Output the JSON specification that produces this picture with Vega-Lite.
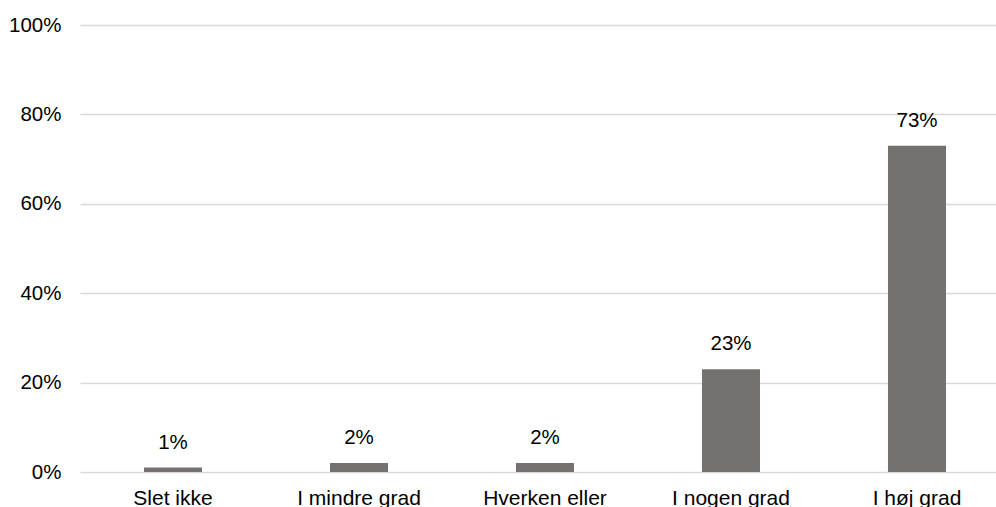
{
  "$schema": "https://vega.github.io/schema/vega-lite/v6.json",
  "autosize": {"type": "none"},
  "width": 916,
  "height": 447,
  "padding": {"left": 80, "top": 25, "right": 0, "bottom": 35},
  "config": {
    "view": {"stroke": null},
    "font": "Liberation Sans"
  },
  "data": {
    "values": [
      {"kategori": "Slet ikke", "andel": 0.01},
      {"kategori": "I mindre grad", "andel": 0.02},
      {"kategori": "Hverken eller", "andel": 0.02},
      {"kategori": "I nogen grad", "andel": 0.23},
      {"kategori": "I høj grad", "andel": 0.73}
    ]
  },
  "encoding": {
    "x": {
      "field": "kategori",
      "type": "nominal",
      "sort": null,
      "scale": {"range": [0, 930], "paddingInner": 0.688, "paddingOuter": 0.344},
      "axis": {
        "title": null,
        "labelAngle": 0,
        "labelFontSize": 21,
        "labelColor": "#000000",
        "labelFont": "Liberation Sans",
        "labelBaseline": "top",
        "labelPadding": 15,
        "ticks": false,
        "domain": false,
        "grid": false
      }
    },
    "y": {
      "field": "andel",
      "type": "quantitative",
      "scale": {"domain": [0, 1], "nice": false},
      "axis": {
        "title": null,
        "values": [0, 0.2, 0.4, 0.6, 0.8, 1],
        "format": ".0%",
        "labelFontSize": 20.5,
        "labelColor": "#000000",
        "labelFont": "Liberation Sans",
        "labelPadding": 19,
        "ticks": false,
        "domain": false,
        "grid": true,
        "gridColor": "#d9d9d9",
        "gridWidth": 1.5
      }
    }
  },
  "layer": [
    {"mark": {"type": "bar", "color": "#767171"}},
    {
      "mark": {"type": "text", "baseline": "bottom", "dy": -15, "fontSize": 20.5, "color": "#000000", "font": "Liberation Sans"},
      "encoding": {"text": {"field": "andel", "type": "quantitative", "format": ".0%"}}
    }
  ]
}
